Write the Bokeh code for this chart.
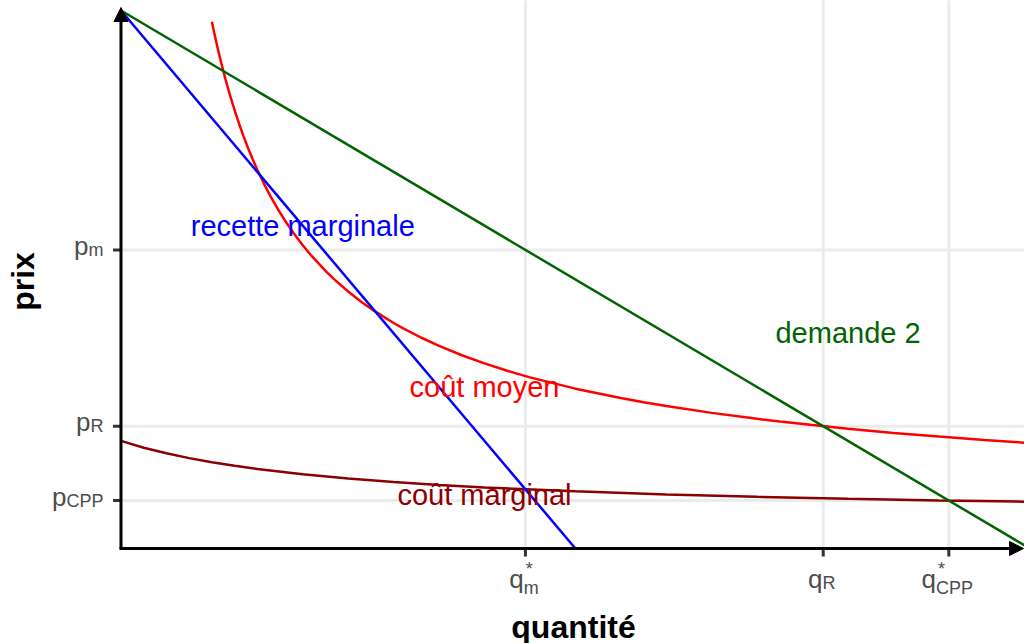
import math
from bokeh.plotting import figure
from bokeh.models import Range1d, Arrow, NormalHead
from bokeh.embed import file_html
from bokeh.resources import INLINE
from bokeh.core.properties import value

# ---------------- data ----------------
demand_q = [0.0, 10.0]
demand_p = [10.0, 0.0]
mr_q = [0.0, 5.0]
mr_p = [10.0, 0.0]
ac_q = [1.0, 1.025, 1.05, 1.075, 1.1, 1.15, 1.2, 1.25, 1.3, 1.35, 1.4, 1.45, 1.5, 1.575,
        1.65, 1.725, 1.8, 1.9, 2.0, 2.1, 2.25, 2.35, 2.5, 2.65, 2.8, 3.0, 3.1, 3.3, 3.5,
        3.75, 4.0, 4.25, 4.5, 5.0, 5.5, 5.75, 6.0, 6.5, 7.0, 7.25, 8.0, 8.5, 9.0, 9.5, 10.0]
ac_p = [9.790, 9.590, 9.400, 9.218, 9.045, 8.720, 8.421, 8.146, 7.891, 7.655, 7.436, 7.231,
        7.039, 6.774, 6.532, 6.311, 6.107, 5.860, 5.636, 5.433, 5.161, 4.998, 4.777, 4.579,
        4.402, 4.192, 4.096, 3.922, 3.766, 3.592, 3.440, 3.304, 3.181, 2.971, 2.796, 2.719,
        2.648, 2.521, 2.410, 2.360, 2.226, 2.149, 2.080, 2.017, 1.960]
mc_q = [0.0, 0.25, 0.5, 0.75, 1.0, 1.25, 1.5, 2.0, 2.5, 3.0, 3.5, 4.0, 5.0, 6.0, 7.0,
        8.0, 9.0, 10.0]
mc_p = [2.000, 1.874, 1.770, 1.680, 1.603, 1.537, 1.478, 1.380, 1.301, 1.236, 1.182,
        1.136, 1.062, 1.005, 0.960, 0.924, 0.894, 0.869]

q_ticks = [4.45, 7.727, 9.109]
q_main = ["q", "q", "q"]
q_sub = ["m", "R", "CPP"]
q_sup = ["*", "", "*"]
p_ticks = [5.55, 2.273, 0.891]
p_main = ["p", "p", "p"]
p_sub = ["m", "R", "CPP"]

labels = ["recette marginale", "demande 2", "coût moyen", "coût marginal"]
label_q = [2.0, 8.0, 4.0, 4.0]
label_p = [6.0, 4.0, 3.0, 1.0]
label_colors = ["#0000FF", "#006400", "#FF0000", "#8B0000"]

x_title = "quantité"
y_title = "prix"

# ---------------- layout ----------------
W, H = 1024, 643
PXQ, PXP = 90.88, 53.8          # pixels per data unit
ORIG_X, ORIG_Y = 120.5, 548.0   # origin position in figure pixels (from left / from top)
x0 = -ORIG_X / PXQ
x1 = x0 + W / PXQ
y1 = ORIG_Y / PXP
y0 = y1 - H / PXP
SHIFT = 10.0                    # text baseline correction (px, upwards)


def dq(px):
    return px / PXQ


def dp(px):
    return px / PXP


ADV = {"m": 0.833, "R": 0.722, "C": 0.722, "P": 0.667, "*": 0.389, "p": 0.556, "q": 0.556}


def tw(s, size):
    return sum(ADV[c] for c in s) * size


FONT = value("Liberation Sans")
MAIN, SUB = 26, 18
TICK_COL = "#4D4D4D"

p = figure(width=W, height=H, x_range=Range1d(x0, x1), y_range=Range1d(y0, y1),
           output_backend="svg", toolbar_location=None,
           x_axis_location=None, y_axis_location=None,
           min_border=0, outline_line_color=None,
           background_fill_color="white", border_fill_color="white")
p.grid.visible = False

# grid lines
grid_col = "#EBEBEB"
n = len(q_ticks)
p.segment(x0=q_ticks, y0=[0] * n, x1=q_ticks, y1=[y1 + 1] * n, line_color=grid_col, line_width=3)
p.segment(x0=[0] * len(p_ticks), y0=p_ticks, x1=[x1 + 1] * len(p_ticks), y1=p_ticks,
          line_color=grid_col, line_width=3)

# curves
p.line(mc_q, mc_p, line_color="#8B0000", line_width=2.5)
p.line(ac_q, ac_p, line_color="#FF0000", line_width=2.5)
p.line(mr_q, mr_p, line_color="#0000FF", line_width=2.5)
p.line(demand_q, demand_p, line_color="#006400", line_width=2.5)

# axes with arrows
p.add_layout(Arrow(x_start=-dq(1.5), y_start=0, x_end=x1 - dq(1), y_end=0,
                   line_color="black", line_width=3,
                   end=NormalHead(size=14, fill_color="black", line_color="black", line_width=1)))
p.add_layout(Arrow(x_start=0, y_start=0, x_end=0, y_end=y1 - dp(7),
                   line_color="black", line_width=3,
                   end=NormalHead(size=14, fill_color="black", line_color="black", line_width=1)))

# ticks
p.segment(x0=[-dq(8)] * len(p_ticks), y0=p_ticks, x1=[0] * len(p_ticks), y1=p_ticks,
          line_color="#333333", line_width=3)
p.segment(x0=q_ticks, y0=[0] * n, x1=q_ticks, y1=[-dp(8)] * n,
          line_color="#333333", line_width=3)

# y tick labels (p with subscript), right aligned
right = -dq(17.5)
p.text(x=[right] * len(p_ticks), y=[t - dp(10 - SHIFT) for t in p_ticks], text=p_sub,
       text_align="right", text_baseline="alphabetic", text_font=FONT,
       text_font_size=f"{SUB}px", text_color=TICK_COL)
p.text(x=[right - dq(tw(s, SUB)) for s in p_sub], y=[t - dp(6 - SHIFT) for t in p_ticks],
       text=p_main, text_align="right", text_baseline="alphabetic", text_font=FONT,
       text_font_size=f"{MAIN}px", text_color=TICK_COL)

# x tick labels (q with subscript / superscript), centred
qw = tw("q", MAIN)
lefts = [t - dq((qw + tw(s, SUB)) / 2) - dq(1.5) for t, s in zip(q_ticks, q_sub)]
p.text(x=lefts, y=[-dp(40 - SHIFT)] * n, text=q_main, text_align="left",
       text_baseline="alphabetic", text_font=FONT, text_font_size=f"{MAIN}px",
       text_color=TICK_COL)
p.text(x=[l + dq(qw) for l in lefts],
       y=[-dp((49 if sp else 44) - SHIFT) for sp in q_sup], text=q_sub,
       text_align="left", text_baseline="alphabetic",
       text_font=FONT, text_font_size=f"{SUB}px", text_color=TICK_COL)
p.text(x=[l + dq(qw + 2) for l in lefts], y=[-dp(30 - SHIFT)] * n, text=q_sup,
       text_align="left", text_baseline="alphabetic",
       text_font=FONT, text_font_size=f"{SUB}px", text_color=TICK_COL)

# axis titles
p.text(x=[dq(573 - 120.5)], y=[-dp(88 - SHIFT)], text=[x_title], text_align="center",
       text_baseline="alphabetic", text_font=FONT, text_font_size="32px",
       text_font_style="bold", text_color="black")
p.text(x=[-dq(120.5 - 22)], y=[dp(548 - 281)], text=[y_title], angle=math.pi / 2,
       text_align="center", text_baseline="alphabetic", text_font=FONT,
       text_font_size="32px", text_font_style="bold", text_color="black")

# curve labels
p.text(x=label_q, y=[v - dp(10 - SHIFT) for v in label_p], text=labels, text_align="center",
       text_baseline="alphabetic", text_font=FONT, text_font_size="29px",
       text_color=label_colors)

open("out.html", "w").write(file_html(p, INLINE))
